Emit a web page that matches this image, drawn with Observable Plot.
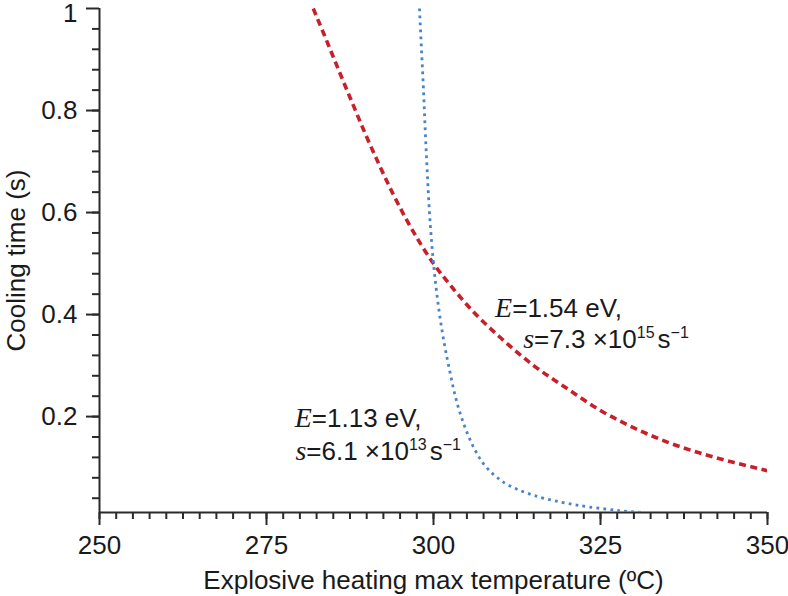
<!DOCTYPE html>
<html>
<head>
<meta charset="utf-8">
<script src="https://cdn.jsdelivr.net/npm/d3@7"></script>
<script src="https://cdn.jsdelivr.net/npm/@observablehq/plot@0.6"></script>
<style>
  body { margin: 0; background: #fff; }
  #chart svg { display: block; }
</style>
</head>
<body>
<div id="chart"></div>
<script>
// Red dashed curve: E = 1.54 eV, s = 7.3e15 s^-1
const redTemp = [282, 284, 286, 288, 290, 292, 294, 296, 298, 300, 303, 306, 310, 315, 320, 325, 330, 335, 340, 345, 350];
const redTime = [1.00, 0.937, 0.873, 0.81, 0.748, 0.69, 0.635, 0.585, 0.54, 0.50, 0.45, 0.405, 0.355, 0.30, 0.255, 0.212, 0.178, 0.150, 0.128, 0.110, 0.094];

// Blue dotted curve: E = 1.13 eV, s = 6.1e13 s^-1
const blueTemp = [297.9, 298.2, 298.5, 298.8, 299.1, 299.5, 300.0, 300.6, 301.2, 301.8, 302.5, 303.3, 304.2, 305.2, 306.4, 307.7, 309.3, 311.3, 313.8, 316.8, 320.0, 323.2, 326.3, 329.0, 331.5];
const blueTime = [1.00, 0.92, 0.84, 0.75, 0.67, 0.58, 0.50, 0.43, 0.375, 0.33, 0.285, 0.238, 0.198, 0.163, 0.13, 0.104, 0.083, 0.065, 0.051, 0.039, 0.030, 0.023, 0.018, 0.014, 0.012];

const xDomain = [250, 350];
const yDomain = [0.012, 1];
const xMajorTicks = [250, 275, 300, 325, 350];
const xMinorStep = 2.5;
const yMajorTicks = [0.2, 0.4, 0.6, 0.8, 1];
const yMinorStep = 0.04;

const xLabel = "Explosive heating max temperature (ºC)";
const yLabel = "Cooling time (s)";

// Annotation texts, anchored in data coordinates
const annE = ["1.13", "1.54"];
const annS = ["6.1", "7.3"];
const annExp = ["13", "15"];
const annTemp1 = [279.3, 309.3];   // line 1 left (temperature)
const annTemp2 = [279.4, 313.5];   // line 2 left (temperature)
const annTime1 = [0.178, 0.394];   // line 1 baseline (time)
const annTime2 = [0.114, 0.334];   // line 2 baseline (time)

const red = redTemp.map((t, i) => ({t, v: redTime[i]}));
const blue = blueTemp.map((t, i) => ({t, v: blueTime[i]}));
const xMinor = d3.range(xDomain[0], xDomain[1] + 0.001, xMinorStep);
const yMinor = d3.range(1, 25).map(i => +(i * yMinorStep).toFixed(2));
const yTop = yDomain[1];
const yInner = yMajorTicks.filter(d => d < yTop);
const yEdge = yMajorTicks.filter(d => d >= yTop);

const axisColor = "#2a2a2a";
const textColor = "#1a1a1a";
const font = "'Liberation Sans', Arial, Helvetica, sans-serif";
const fs = 26;

const plot = Plot.plot({
  width: 788,
  height: 596,
  marginLeft: 99,
  marginRight: 21,
  marginTop: 8,
  marginBottom: 84,
  style: {fontFamily: font, fontSize: fs + "px", color: textColor, background: "#fff", overflow: "visible"},
  x: {domain: xDomain},
  y: {domain: yDomain},
  marks: [
    Plot.axisX({ticks: xMinor, tickSize: 7, tickFormat: () => "", label: null, stroke: axisColor, strokeWidth: 2}),
    Plot.axisX({ticks: xMajorTicks, tickSize: 13, tickPadding: 10, tickFormat: d => String(d), label: null, stroke: axisColor, strokeWidth: 2, fontSize: fs}),
    Plot.axisY({ticks: yMinor, tickSize: 7, tickFormat: () => "", label: null, stroke: axisColor, strokeWidth: 2}),
    Plot.axisY({ticks: yInner, tickSize: 13, tickPadding: 9, tickFormat: d => String(d), label: null, stroke: axisColor, strokeWidth: 2, fontSize: fs}),
    Plot.axisY({ticks: yEdge, tickSize: 13, tickFormat: () => "", label: null, stroke: axisColor, strokeWidth: 2}),
    Plot.axisY({ticks: yEdge, tickSize: 0, tickPadding: 22, tickFormat: d => String(d), label: null, fontSize: fs, dy: 5}),
    Plot.ruleX([xDomain[0]], {stroke: axisColor, strokeWidth: 2}),
    Plot.ruleY([yDomain[0]], {stroke: axisColor, strokeWidth: 2}),
    Plot.line(red, {x: "t", y: "v", curve: "monotone-x", stroke: "#c8202a", strokeWidth: 3.6, strokeDasharray: "7,4.5", strokeLinecap: "butt", clip: true}),
    Plot.line(blue, {x: "t", y: "v", curve: "monotone-y", stroke: "#4a84c6", strokeWidth: 2.8, strokeDasharray: "2.8,4.2", strokeLinecap: "butt", clip: true}),
    Plot.text([xLabel], {frameAnchor: "bottom", textAnchor: "middle", lineAnchor: "middle", dy: 68, fontSize: fs, fill: textColor}),
    Plot.text([yLabel], {frameAnchor: "left", textAnchor: "middle", lineAnchor: "middle", rotate: -90, dx: -83, fontSize: fs, fill: textColor})
  ]
});

document.getElementById("chart").appendChild(plot);

// Rich-text annotations positioned through Plot's own scales
const sx = plot.scale("x");
const sy = plot.scale("y");
const svg = d3.select(plot);
const serif = "'Liberation Serif', 'Times New Roman', serif";
annE.forEach((e, i) => {
  const g = svg.append("g").attr("font-family", font).attr("font-size", fs).attr("fill", textColor).attr("text-anchor", "start");
  const t1 = g.append("text").attr("x", sx.apply(annTemp1[i])).attr("y", sy.apply(annTime1[i]));
  t1.append("tspan").attr("font-family", serif).attr("font-style", "italic").attr("font-size", 28).text("E");
  t1.append("tspan").text("=" + e + " eV,");
  const t2 = g.append("text").attr("x", sx.apply(annTemp2[i])).attr("y", sy.apply(annTime2[i]));
  t2.append("tspan").attr("font-family", serif).attr("font-style", "italic").attr("font-size", 28).text("s");
  t2.append("tspan").text("=" + annS[i] + " \u00d710");
  t2.append("tspan").attr("font-size", 16).attr("dy", -10).text(annExp[i]);
  t2.append("tspan").attr("dy", 10).attr("dx", 3).text("s");
  t2.append("tspan").attr("font-size", 16).attr("dy", -10).text("\u22121");
});
</script>
</body>
</html>
